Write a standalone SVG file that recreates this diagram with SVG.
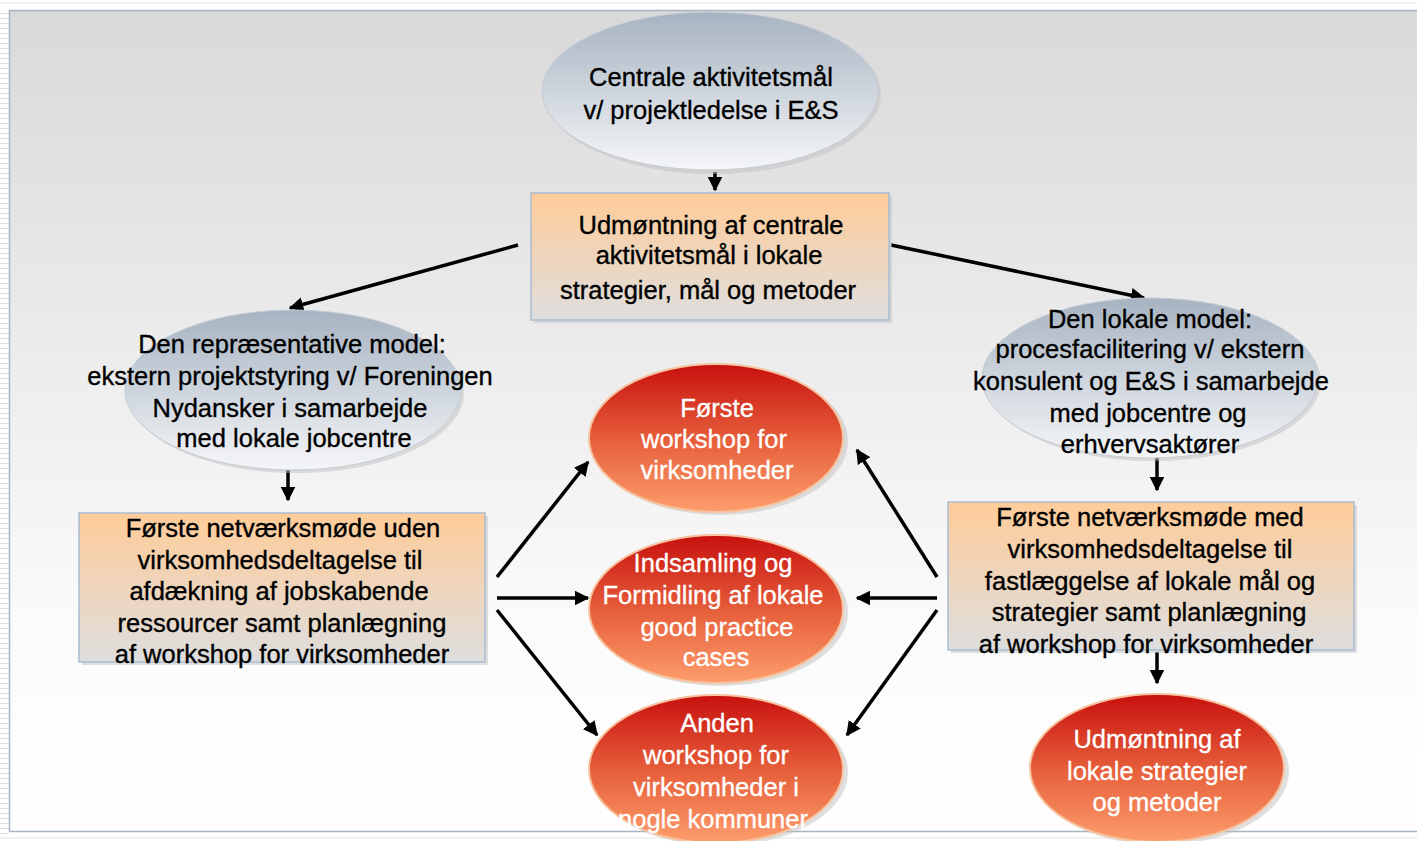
<svg xmlns="http://www.w3.org/2000/svg" width="1417" height="841" viewBox="0 0 1417 841">
<defs>
<linearGradient id="bg" x1="0" y1="0" x2="0" y2="1"><stop offset="0" stop-color="#d9d9d9"/><stop offset="0.75" stop-color="#fbfbfb"/><stop offset="1" stop-color="#ffffff"/></linearGradient>
<linearGradient id="blue" x1="0" y1="0" x2="0" y2="1"><stop offset="0" stop-color="#a6b3c1"/><stop offset="1" stop-color="#f5f6f8"/></linearGradient>
<linearGradient id="box" x1="0" y1="0" x2="0" y2="1"><stop offset="0" stop-color="#ffcc99"/><stop offset="1" stop-color="#dedede"/></linearGradient>
<linearGradient id="red" x1="0" y1="0" x2="0" y2="1"><stop offset="0" stop-color="#c8100e"/><stop offset="0.55" stop-color="#e8643e"/><stop offset="1" stop-color="#fd9d6d"/></linearGradient>
<pattern id="stripes" width="9" height="5" patternUnits="userSpaceOnUse"><rect width="9" height="5" fill="#ffffff"/><rect y="3" width="9" height="1" fill="#dedede"/></pattern>
<marker id="ah" viewBox="0 0 10 10" refX="9" refY="5" markerWidth="4.2" markerHeight="4.2" orient="auto" markerUnits="strokeWidth"><path d="M0,0 L10,5 L0,10 z" fill="#000"/></marker>
</defs>
<style>
.t{font-family:"Liberation Sans",Arial,sans-serif;font-size:25.5px;text-anchor:middle;fill:#000;stroke:#000;stroke-width:0.35}
.w{font-family:"Liberation Sans",Arial,sans-serif;font-size:25.5px;text-anchor:middle;fill:#fff;stroke:#fff;stroke-width:0.3}
.bx{fill:url(#box);stroke:#a9bcd1;stroke-width:1.5}
.be{fill:url(#blue);stroke:#c4ccd6;stroke-width:1}
.re{fill:url(#red);stroke:#f7c29e;stroke-width:2}
.sh{fill:#bfbfbf;opacity:0.5}
.c{stroke:#000;stroke-width:3.5;fill:none;marker-end:url(#ah)}
</style>
<rect width="1417" height="841" fill="#ffffff"/>
<rect x="0" y="10" width="9" height="825" fill="url(#stripes)"/>
<line x1="0" y1="3" x2="1417" y2="3" stroke="#e4e4e4" stroke-width="1"/>
<line x1="0" y1="838" x2="1417" y2="838" stroke="#e4e4e4" stroke-width="1"/>
<rect x="9.5" y="10.5" width="1420" height="821" fill="url(#bg)" stroke="#a9b4c2" stroke-width="1.5"/>

<g id="connectors">
<line class="c" x1="715" y1="172" x2="715" y2="190"/>
<line class="c" x1="518" y1="245" x2="290" y2="308"/>
<line class="c" x1="891" y1="245" x2="1144" y2="298"/>
<line class="c" x1="288" y1="470" x2="288" y2="500"/>
<line class="c" x1="1157" y1="458" x2="1157" y2="490"/>
<line class="c" x1="1157" y1="652" x2="1157" y2="683"/>
<line class="c" x1="497" y1="577" x2="588" y2="462"/>
<line class="c" x1="497" y1="598" x2="588" y2="598"/>
<line class="c" x1="497" y1="610" x2="597" y2="735"/>
<line class="c" x1="937" y1="577" x2="857" y2="450"/>
<line class="c" x1="937" y1="598" x2="857" y2="598"/>
<line class="c" x1="937" y1="610" x2="847" y2="735"/>
</g>

<g id="n-central">
<ellipse class="sh" cx="713" cy="94" rx="168" ry="80"/>
<ellipse class="be" cx="710" cy="91" rx="168" ry="79"/>
<text class="t" x="711" y="86">Centrale aktivitetsmål</text>
<text class="t" x="711" y="119">v/ projektledelse i E&amp;S</text>
</g>

<g id="n-udmontning">
<rect class="sh" x="534" y="196" width="358" height="127"/>
<rect class="bx" x="531" y="193" width="358" height="127"/>
<text class="t" x="711" y="234">Udmøntning af centrale</text>
<text class="t" x="709" y="264">aktivitetsmål i lokale</text>
<text class="t" x="708" y="299">strategier, mål og metoder</text>
</g>

<g id="n-repr">
<ellipse class="sh" cx="296" cy="393" rx="168" ry="80"/>
<ellipse class="be" cx="293" cy="390" rx="168" ry="80"/>
<text class="t" x="292" y="353">Den repræsentative model:</text>
<text class="t" x="290" y="385">ekstern projektstyring v/ Foreningen</text>
<text class="t" x="290" y="417">Nydansker i samarbejde</text>
<text class="t" x="294" y="447">med lokale jobcentre</text>
</g>

<g id="n-lokal">
<ellipse class="sh" cx="1153" cy="381" rx="168" ry="80"/>
<ellipse class="be" cx="1150" cy="378" rx="168" ry="80"/>
<text class="t" x="1150" y="328">Den lokale model:</text>
<text class="t" x="1150" y="358">procesfacilitering v/ ekstern</text>
<text class="t" x="1151" y="390">konsulent og E&amp;S i samarbejde</text>
<text class="t" x="1148" y="422">med jobcentre og</text>
<text class="t" x="1150" y="453">erhvervsaktører</text>
</g>

<g id="n-netv-left">
<rect class="sh" x="82" y="516" width="406" height="149"/>
<rect class="bx" x="79" y="513" width="406" height="149"/>
<text class="t" x="283" y="537">Første netværksmøde uden</text>
<text class="t" x="280" y="569">virksomhedsdeltagelse til</text>
<text class="t" x="279" y="600">afdækning af jobskabende</text>
<text class="t" x="282" y="632">ressourcer samt planlægning</text>
<text class="t" x="282" y="663">af workshop for virksomheder</text>
</g>

<g id="n-netv-right">
<rect class="sh" x="951" y="505" width="406" height="148"/>
<rect class="bx" x="948" y="502" width="406" height="148"/>
<text class="t" x="1150" y="526">Første netværksmøde med</text>
<text class="t" x="1150" y="558">virksomhedsdeltagelse til</text>
<text class="t" x="1150" y="590">fastlæggelse af lokale mål og</text>
<text class="t" x="1149" y="621">strategier samt planlægning</text>
<text class="t" x="1146" y="653">af workshop for virksomheder</text>
</g>

<g id="n-ws1">
<ellipse class="sh" cx="720" cy="441" rx="128" ry="74"/>
<ellipse class="re" cx="716" cy="438" rx="127" ry="74"/>
<text class="w" x="717" y="417">Første</text>
<text class="w" x="714" y="448">workshop for</text>
<text class="w" x="717" y="479">virksomheder</text>
</g>

<g id="n-cases">
<ellipse class="sh" cx="720" cy="612" rx="128" ry="74"/>
<ellipse class="re" cx="716" cy="609" rx="127" ry="74"/>
<text class="w" x="713" y="572">Indsamling og</text>
<text class="w" x="713" y="604">Formidling af lokale</text>
<text class="w" x="717" y="636">good practice</text>
<text class="w" x="716" y="666">cases</text>
</g>

<g id="n-ws2">
<ellipse class="sh" cx="720" cy="772" rx="128" ry="74"/>
<ellipse class="re" cx="716" cy="769" rx="127" ry="74"/>
<text class="w" x="717" y="732">Anden</text>
<text class="w" x="716" y="764">workshop for</text>
<text class="w" x="716" y="796">virksomheder i</text>
<text class="w" x="713" y="828">nogle kommuner</text>
</g>

<g id="n-udm-lokal">
<ellipse class="sh" cx="1161" cy="771" rx="128" ry="74"/>
<ellipse class="re" cx="1157" cy="768" rx="127" ry="74"/>
<text class="w" x="1157" y="748">Udmøntning af</text>
<text class="w" x="1157" y="780">lokale strategier</text>
<text class="w" x="1157" y="811">og metoder</text>
</g>
</svg>
